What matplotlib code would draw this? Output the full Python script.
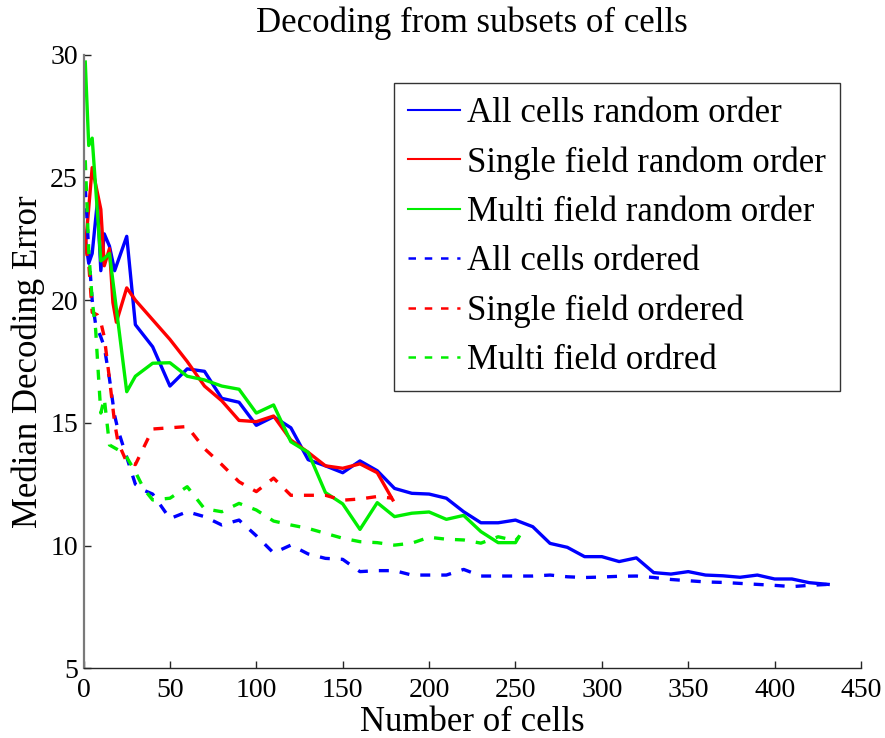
import matplotlib
matplotlib.use("Agg")
import matplotlib.pyplot as plt
from matplotlib.lines import Line2D

plt.rcParams['font.family'] = ['Liberation Serif', 'DejaVu Serif']

# All cells, random order
x_all_rand = [1, 3, 5, 8, 10, 12, 15, 18, 25, 30, 40, 50, 60, 70, 80, 90, 100, 110, 120,
              130, 140, 150, 160, 170, 180, 190, 200, 210, 220, 230, 240, 250, 260, 270,
              280, 290, 300, 310, 320, 330, 340, 350, 360, 370, 380, 390, 400, 410, 420, 431]
y_all_rand = [22.5, 21.5, 21.9, 24.0, 21.2, 22.7, 22.2, 21.2, 22.6, 19.0, 18.1, 16.5, 17.2,
              17.1, 16.0, 15.84, 14.9, 15.25, 14.8, 13.5, 13.25, 12.97, 13.45, 13.05, 12.33,
              12.13, 12.1, 11.93, 11.38, 10.93, 10.93, 11.04, 10.77, 10.09, 9.93, 9.55, 9.55,
              9.35, 9.5, 8.9, 8.84, 8.94, 8.8, 8.77, 8.71, 8.8, 8.64, 8.64, 8.49, 8.42]

# Single field cells, random order
x_single_rand = [1, 5, 10, 12, 15, 17, 19, 25, 30, 40, 50, 60, 70, 80, 90, 100, 110, 120,
                 130, 140, 150, 160, 170, 179]
y_single_rand = [22.1, 25.4, 23.7, 21.4, 22.1, 19.9, 19.1, 20.5, 20.0, 19.2, 18.4, 17.5,
                 16.5, 15.9, 15.1, 15.05, 15.28, 14.3, 13.8, 13.25, 13.15, 13.33, 12.97, 11.86]

# Multi field cells, random order
x_multi_rand = [1, 3, 5, 10, 12, 15, 25, 30, 40, 50, 60, 70, 80, 90, 100, 110, 120, 130,
                140, 150, 160, 170, 180, 190, 200, 210, 220, 230, 240, 250, 252]
y_multi_rand = [29.7, 26.3, 26.6, 21.6, 21.7, 21.9, 16.27, 16.9, 17.43, 17.45, 16.9, 16.75,
                16.5, 16.37, 15.4, 15.73, 14.23, 13.8, 12.16, 11.7, 10.66, 11.75, 11.18, 11.32,
                11.37, 11.07, 11.23, 10.57, 10.12, 10.12, 10.36]

# All cells, ordered
x_all_ord = [1, 3, 5, 7, 10, 12, 15, 18, 20, 25, 30, 35, 40, 45, 50, 60, 70, 80, 90, 100,
             110, 120, 130, 140, 150, 160, 170, 180, 190, 200, 210, 220, 230, 240, 250, 260,
             270, 280, 290, 300, 310, 320, 330, 340, 350, 360, 370, 380, 390, 400, 410, 420, 431]
y_all_ord = [24.6, 22.0, 20.0, 19.0, 18.5, 18.1, 16.8, 15.3, 14.7, 13.6, 12.5, 12.25, 12.1,
             11.6, 11.1, 11.38, 11.18, 10.84, 11.04, 10.4, 9.7, 10.02, 9.66, 9.48, 9.44, 8.94,
             8.98, 8.98, 8.8, 8.8, 8.8, 9.03, 8.76, 8.76, 8.76, 8.76, 8.8, 8.73, 8.7, 8.72,
             8.75, 8.76, 8.7, 8.62, 8.57, 8.52, 8.5, 8.46, 8.42, 8.38, 8.33, 8.38, 8.42]

# Single field cells, ordered
x_single_ord = [1, 3, 5, 8, 10, 12, 15, 18, 20, 25, 30, 40, 50, 60, 70, 80, 90, 100, 110,
                120, 130, 140, 150, 160, 170, 179]
y_single_ord = [22.2, 21.5, 19.5, 19.4, 19.1, 18.5, 16.8, 15.0, 14.2, 13.4, 13.3, 14.75,
                14.8, 14.85, 13.95, 13.3, 12.6, 12.2, 12.75, 12.05, 12.05, 12.05, 11.85, 11.9,
                12.0, 11.93]

# Multi field cells, ordered
x_multi_ord = [1, 3, 5, 7, 9, 10, 12, 15, 20, 25, 30, 35, 40, 50, 60, 70, 80, 90, 100, 110,
               120, 130, 140, 150, 160, 170, 180, 190, 200, 210, 220, 230, 240, 250, 252]
y_multi_ord = [25.7, 22.0, 20.0, 18.8, 16.5, 15.4, 16.0, 14.1, 13.9, 13.6, 13.0, 12.3, 11.86,
               11.93, 12.4, 11.5, 11.38, 11.72, 11.45, 11.0, 10.84, 10.7, 10.5, 10.3, 10.16,
               10.12, 10.02, 10.1, 10.34, 10.26, 10.23, 10.1, 10.36, 10.2, 10.36]

labels = ['All cells random order', 'Single field random order', 'Multi field random order',
          'All cells ordered', 'Single field ordered', 'Multi field ordred']

blue, red, green = '#0000ff', '#ff0000', '#00ee00'

fig = plt.figure(figsize=(8.85, 7.38), dpi=100)
ax = fig.add_axes([0.0944, 0.0944, 0.8785, 0.8315])

lw = 2.4
dash = (3.0, 3.3)
ax.plot(x_all_rand, y_all_rand, color=blue, lw=lw)
ax.plot(x_single_rand, y_single_rand, color=red, lw=lw)
ax.plot(x_multi_rand, y_multi_rand, color=green, lw=lw)
ax.plot(x_all_ord, y_all_ord, color=blue, lw=lw, dashes=dash)
ax.plot(x_single_ord, y_single_ord, color=red, lw=lw, dashes=dash)
ax.plot(x_multi_ord, y_multi_ord, color=green, lw=lw, dashes=dash)

ax.set_xlim(0, 450)
ax.set_ylim(5, 30)
ax.set_xticks(range(0, 451, 50))
ax.set_yticks(range(5, 31, 5))

for s in ('top', 'right'):
    ax.spines[s].set_visible(False)
ax.spines['left'].set_color('#7a7a7a')
ax.spines['left'].set_linewidth(1.6)
ax.spines['bottom'].set_color('#262626')
ax.spines['bottom'].set_linewidth(1.0)
ax.tick_params(direction='in', length=5, width=1.0, color='#262626', labelsize=20)
ax.tick_params(axis='x', pad=7)
ax.tick_params(axis='y', pad=4)

ax.set_title('Decoding from subsets of cells', fontsize=25, pad=16)
ax.set_xlabel('Number of cells', fontsize=25, labelpad=2)
ax.set_ylabel('Median Decoding Error', fontsize=25, labelpad=4)

handles = [Line2D([], [], color=blue, lw=1.5),
           Line2D([], [], color=red, lw=1.5),
           Line2D([], [], color=green, lw=1.5),
           Line2D([], [], color=blue, lw=1.8, dashes=(3, 3.5)),
           Line2D([], [], color=red, lw=1.8, dashes=(3, 3.5)),
           Line2D([], [], color=green, lw=1.8, dashes=(3, 3.5))]
leg = ax.legend(handles, labels, loc='upper right', bbox_to_anchor=(0.973, 0.954),
                fontsize=25, frameon=True, fancybox=False, handlelength=1.5,
                handletextpad=0.2, labelspacing=0.47, borderpad=0.4, borderaxespad=0)
leg.get_frame().set_edgecolor('black')
leg.get_frame().set_linewidth(1.0)

fig.savefig('out.png', dpi=100)
